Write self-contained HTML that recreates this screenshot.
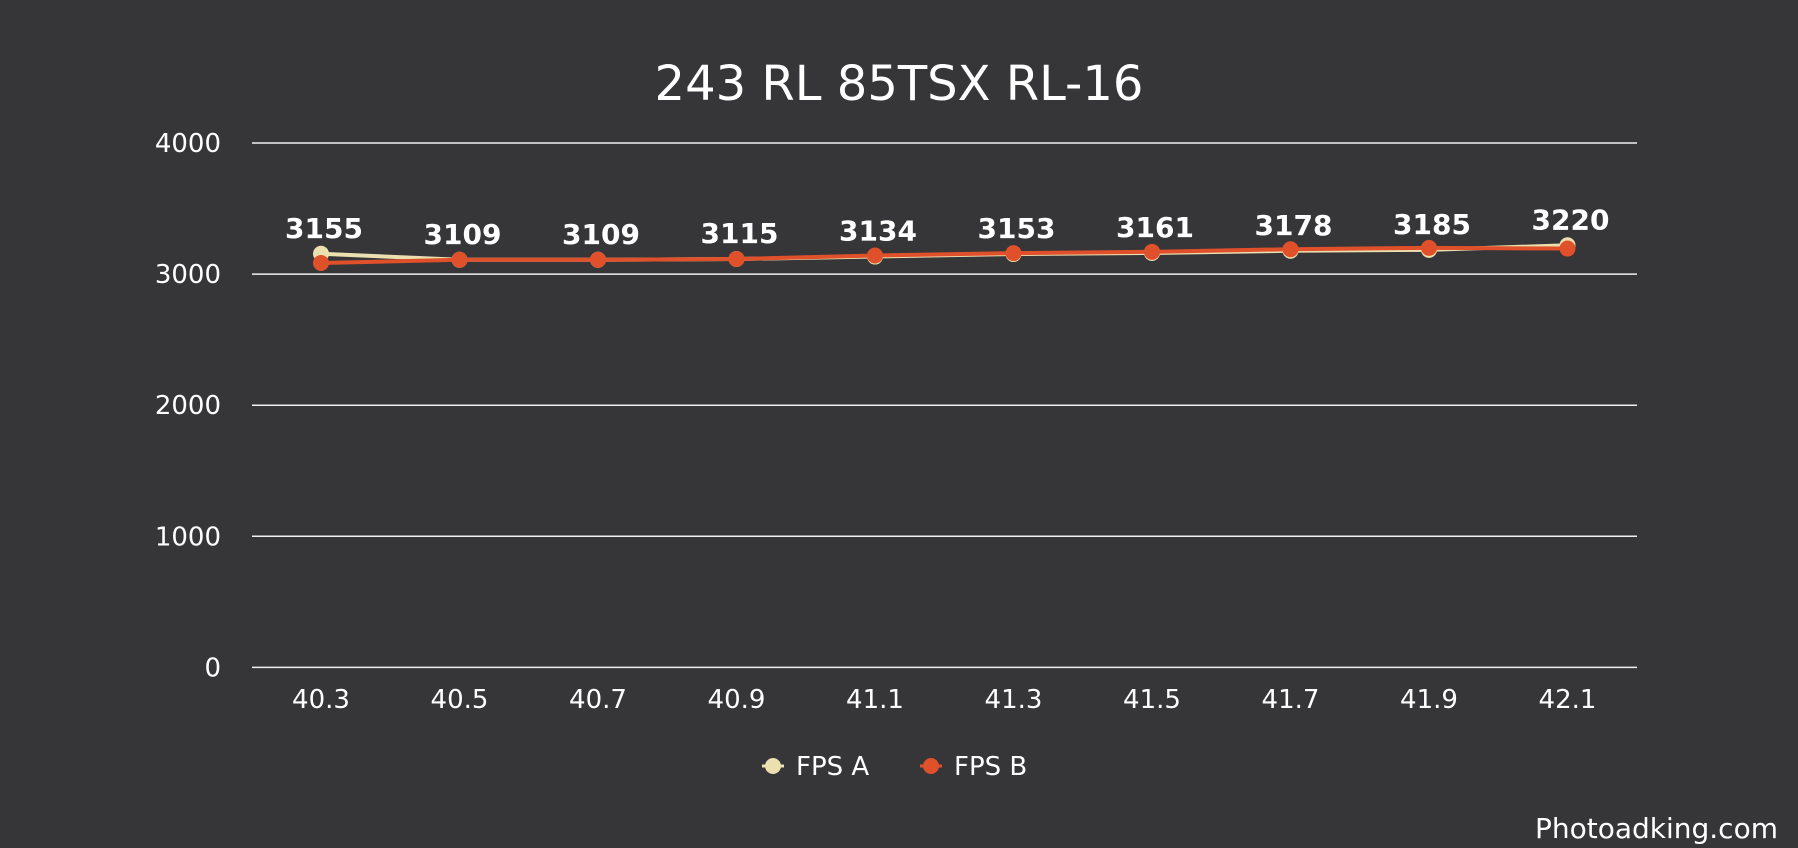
<!DOCTYPE html>
<html><head><meta charset="utf-8"><style>
html,body{margin:0;padding:0;background:#363638;}
svg{display:block;font-family:"DejaVu Sans","Liberation Sans",sans-serif;}
</style></head><body>
<svg id="chart" width="1798" height="848" viewBox="0 0 1798 848">
<rect width="1798" height="848" fill="#363638"/>
<text x="899" y="100" text-anchor="middle" fill="#fff" font-size="48">243 RL 85TSX RL-16</text>
<g id="grid"></g><g id="xlabels"></g><g id="series"></g>
<g>
<g>
<line x1="762" y1="766" x2="784" y2="766" stroke="#ecdfb0" stroke-width="3"/><circle cx="773" cy="766" r="8" fill="#ecdfb0"/>
<text x="796" y="775" fill="#fff" font-size="26">FPS A</text></g>
<g>
<line x1="920" y1="766" x2="942" y2="766" stroke="#e0502b" stroke-width="3"/><circle cx="931" cy="766" r="8" fill="#e0502b"/>
<text x="954" y="775" fill="#fff" font-size="26">FPS B</text></g>
</g>
<text x="1778" y="838" text-anchor="end" fill="#fff" font-size="28">Photoadking.com</text>
</svg>
<script>
const categories=["40.3","40.5","40.7","40.9","41.1","41.3","41.5","41.7","41.9","42.1"];
const fpsA=[3155,3109,3109,3115,3134,3153,3161,3178,3185,3220];
const fpsB=[3085,3109,3109,3115,3142,3160,3170,3190,3200,3195];
const yTicks=[0,1000,2000,3000,4000];
const NS="http://www.w3.org/2000/svg";
const L=252,R=1637,T=143,B=667.4,yMax=4000;
const xPos=i=>321+i*(1567.5-321)/(categories.length-1);
const yPos=v=>B-(v/yMax)*(B-T);
function mk(tag,attrs,parent){const e=document.createElementNS(NS,tag);for(const k in attrs)e.setAttribute(k,attrs[k]);parent.appendChild(e);return e;}
const grid=document.getElementById('grid');
yTicks.forEach(t=>{
 const ln=mk('line',{x1:L,x2:R,y1:yPos(t),y2:yPos(t),stroke:'#f0f0f0','stroke-width':1.5},grid);
 
 
 const tx=mk('text',{x:221,y:yPos(t)+9,'text-anchor':'end',fill:'#fff','font-size':26},grid);
 tx.textContent=t;
 
 
});
const xl=document.getElementById('xlabels');
categories.forEach((c,i)=>{
 const tx=mk('text',{x:xPos(i),y:708,'text-anchor':'middle',fill:'#fff','font-size':26},xl);
 tx.textContent=c;
 
 
});
const sg=document.getElementById('series');
function series(vals,color,name,labels){
 const p=mk('polyline',{points:vals.map((v,i)=>xPos(i)+','+yPos(v)).join(' '),fill:'none',stroke:color,'stroke-width':4},sg);
 
 
 vals.forEach((v,i)=>{
  const c=mk('circle',{cx:xPos(i),cy:yPos(v),r:8,fill:color},sg);
  
  
  if(labels){
   const t=mk('text',{x:xPos(i)+3,y:yPos(v)-16,'text-anchor':'middle',fill:'#fff','font-size':28,'font-weight':'bold'},sg);
   t.textContent=v;
   
   
  }
 });
}
series(fpsA,'#ecdfb0','fps-a',true);
series(fpsB,'#e0502b','fps-b',false);
</script>
</body></html>
